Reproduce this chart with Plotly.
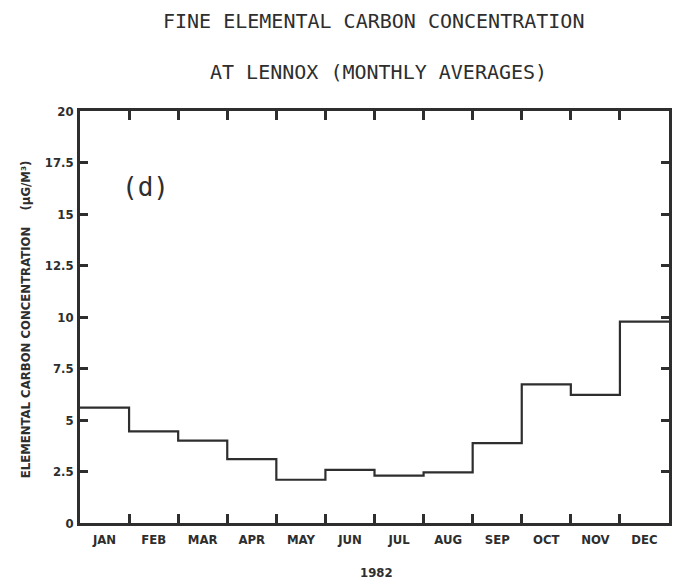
import plotly.graph_objects as go

months = ["JAN", "FEB", "MAR", "APR", "MAY", "JUN", "JUL", "AUG", "SEP", "OCT", "NOV", "DEC"]
ec_values = [5.6, 4.45, 4.0, 3.1, 2.1, 2.58, 2.3, 2.46, 3.88, 6.73, 6.22, 9.78]
y_ticks = [0, 2.5, 5, 7.5, 10, 12.5, 15, 17.5, 20]
y_tick_labels = ["0", "2.5", "5", "7.5", "10", "12.5", "15", "17.5", "20"]

ink = "#2e2e2e"
font_main = "DejaVu Sans Mono"
font_cond = "DejaVu Sans Condensed"

x_edges = list(range(len(months) + 1))
y_step = ec_values + [ec_values[-1]]

W, H = 677, 581
ML, MR, MT, MB = 80, 5, 111, 58

fig = go.Figure()
fig.add_trace(go.Scatter(
    x=x_edges, y=y_step, mode="lines", line=dict(shape="hv", color=ink, width=2.2),
    showlegend=False, hoverinfo="skip"))

def paper_x(px):
    return (px - ML) / (W - ML - MR)

def paper_y(py):
    return (H - MB - py) / (H - MT - MB)

fig.update_layout(
    width=W, height=H,
    margin=dict(l=ML, r=MR, t=MT, b=MB),
    paper_bgcolor="white", plot_bgcolor="white",
    xaxis=dict(
        range=[0, 12], showgrid=False, zeroline=False,
        showline=True, linecolor=ink, linewidth=2.5, mirror="ticks",
        tickvals=[i + 0.5 for i in range(12)], ticktext=months,
        ticks="", ticklen=0, ticklabelstandoff=3,
        tickfont=dict(family=font_cond, size=13, color=ink, weight="bold"),
        minor=dict(tickvals=list(range(1, 12)), ticks="inside", ticklen=9,
                   tickwidth=2.5, tickcolor=ink, showgrid=False),
    ),
    yaxis=dict(
        range=[0, 20], showgrid=False, zeroline=False,
        showline=True, linecolor=ink, linewidth=2.5, mirror="ticks",
        tickvals=y_ticks, ticktext=y_tick_labels,
        ticks="inside", ticklen=8, tickwidth=2.5, tickcolor=ink,
        ticklabelstandoff=1,
        tickfont=dict(family=font_cond, size=13, color=ink, weight="bold"),
    ),
    annotations=[
        dict(text="FINE ELEMENTAL CARBON CONCENTRATION", xref="paper", yref="paper",
             x=paper_x(375), y=paper_y(21), xanchor="center", yanchor="middle",
             showarrow=False, font=dict(family=font_main, size=20, color=ink)),
        dict(text="AT LENNOX (MONTHLY AVERAGES)", xref="paper", yref="paper",
             x=paper_x(380), y=paper_y(72), xanchor="center", yanchor="middle",
             showarrow=False, font=dict(family=font_main, size=20, color=ink)),
        dict(text="(d)", xref="x", yref="y", x=1.34, y=16.3, showarrow=False,
             xanchor="center", yanchor="middle",
             font=dict(family=font_main, size=26, color=ink)),
        dict(text="1982", xref="paper", yref="paper",
             x=paper_x(378), y=paper_y(572), xanchor="center", yanchor="middle",
             showarrow=False,
             font=dict(family=font_cond, size=13, color=ink, weight="bold")),
        dict(text="ELEMENTAL CARBON CONCENTRATION    (µG/M³)", xref="paper", yref="paper",
             x=paper_x(25), y=paper_y(319), xanchor="center", yanchor="middle",
             showarrow=False, textangle=-90,
             font=dict(family=font_cond, size=13, color=ink, weight="bold")),
    ],
)

fig.write_html("out.html")
